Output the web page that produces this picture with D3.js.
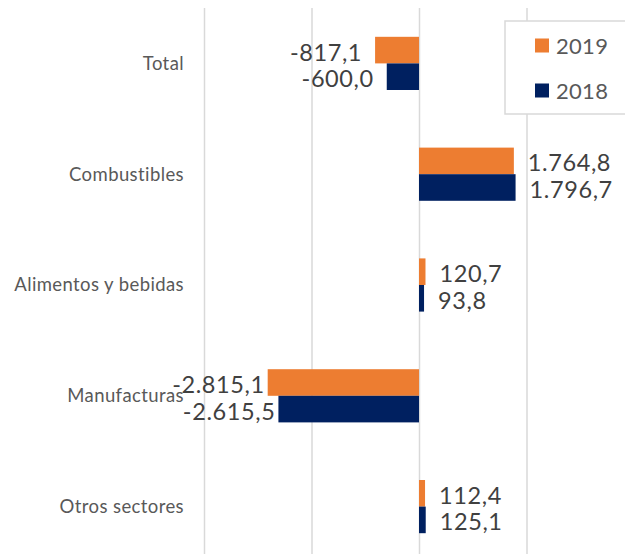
<!DOCTYPE html>
<html>
<head>
<meta charset="utf-8">
<script src="https://cdn.jsdelivr.net/npm/d3@7"></script>
<style>
  body { margin: 0; background: #fff; }
  svg { display: block; font-family: Lato, "Open Sans", sans-serif; }
</style>
</head>
<body>
<div class="chartDIV"></div>
<script>
// balanza comercial por sector, 2019 vs 2018
var categories = ["Total", "Combustibles", "Alimentos y bebidas", "Manufacturas", "Otros sectores"],
    values2019 = [-817.1, 1764.8, 120.7, -2815.1, 112.4],
    values2018 = [-600.0, 1796.7, 93.8, -2615.5, 125.1],
    seriesNames = ["2019", "2018"],
    gridTicks = [-4000, -2000, 0, 2000, 4000];

var colors = {"2019": "#ED7D31", "2018": "#002060"};

var width = 625,
    height = 554;

var svg = d3.select(".chartDIV").
    append("svg").
    attr("width", width).
    attr("height", height);

var x = d3.scaleLinear().domain([-4000, 4000]).range([204, 634]),
    y = d3.scaleBand().domain(categories).range([8, 562]).paddingInner(0.52).paddingOuter(0.26),
    ySeries = d3.scaleBand().domain(seriesNames).range([0, y.bandwidth()]);

var es = d3.formatLocale({decimal: ",", thousands: ".", grouping: [3], currency: ["", ""], minus: "-"}),
    fmt = es.format(",.1f");

// gridlines
svg.append("g").
    attr("class", "grid").
    attr("transform", "translate(0,8)").
    call(d3.axisBottom(x).tickValues(gridTicks).tickSize(height).tickFormat("")).
    call(function(g) {
        g.select(".domain").remove();
        g.selectAll("line").attr("stroke", "#d9d9d9").attr("stroke-width", 1.5);
    });

var rows = categories.map(function(c, i) {
    return {cat: c, values: [{key: "2019", v: values2019[i]}, {key: "2018", v: values2018[i]}]};
});

var group = svg.selectAll(".cat").
    data(rows).
    enter().
    append("g").
    attr("class", "cat").
    attr("transform", function(d) { return "translate(0," + y(d.cat) + ")"; });

group.selectAll("rect").
    data(function(d) { return d.values; }).
    enter().
    append("rect").
    attr("x", function(d) { return x(Math.min(0, d.v)); }).
    attr("width", function(d) { return Math.abs(x(d.v) - x(0)); }).
    attr("y", function(d) { return ySeries(d.key); }).
    attr("height", ySeries.bandwidth()).
    attr("fill", function(d) { return colors[d.key]; });

group.selectAll("text.val").
    data(function(d) { return d.values; }).
    enter().
    append("text").
    attr("class", "val").
    attr("y", function(d) { return ySeries(d.key) + ySeries.bandwidth() / 2 + 2; }).
    attr("dy", "0.36em").
    attr("fill", "#404040").
    style("font-size", "23.5px").
    style("letter-spacing", "0.6px").
    text(function(d) { return fmt(d.v); }).
    each(function(d) {
        var t = d3.select(this);
        if (d.v >= 0) {
            t.attr("x", x(d.v) + 14).attr("text-anchor", "start");
        } else {
            var px = x(d.v) - 13,
                w = this.getComputedTextLength();
            // keep long labels close to the bar when they run into the category names
            if (px - w < 185) px = x(d.v) - 3;
            t.attr("x", px).attr("text-anchor", "end");
        }
    });

// category labels
svg.append("g").
    selectAll("text").
    data(categories).
    enter().
    append("text").
    attr("x", 184).
    attr("y", function(d) { return y(d) + y.bandwidth() / 2; }).
    attr("dy", "0.35em").
    attr("text-anchor", "end").
    attr("fill", "#595959").
    style("font-size", "18.5px").
    style("letter-spacing", "0.4px").
    text(function(d) { return d; });

// legend
var legend = svg.append("g").attr("class", "legend");
legend.append("rect").
    attr("x", 505).
    attr("y", 21).
    attr("width", 130).
    attr("height", 93).
    attr("fill", "#fff").
    attr("stroke", "#d9d9d9").
    attr("stroke-width", 1.5);

var item = legend.selectAll(".item").
    data(seriesNames).
    enter().
    append("g").
    attr("class", "item").
    attr("transform", function(d, i) { return "translate(535," + (38.5 + i * 45) + ")"; });

item.append("rect").
    attr("width", 14).
    attr("height", 14).
    attr("fill", function(d) { return colors[d]; });

item.append("text").
    attr("x", 21).
    attr("y", 15).
    attr("fill", "#595959").
    style("font-size", "22px").
    style("letter-spacing", "0.3px").
    text(function(d) { return d; });
</script>
</body>
</html>
